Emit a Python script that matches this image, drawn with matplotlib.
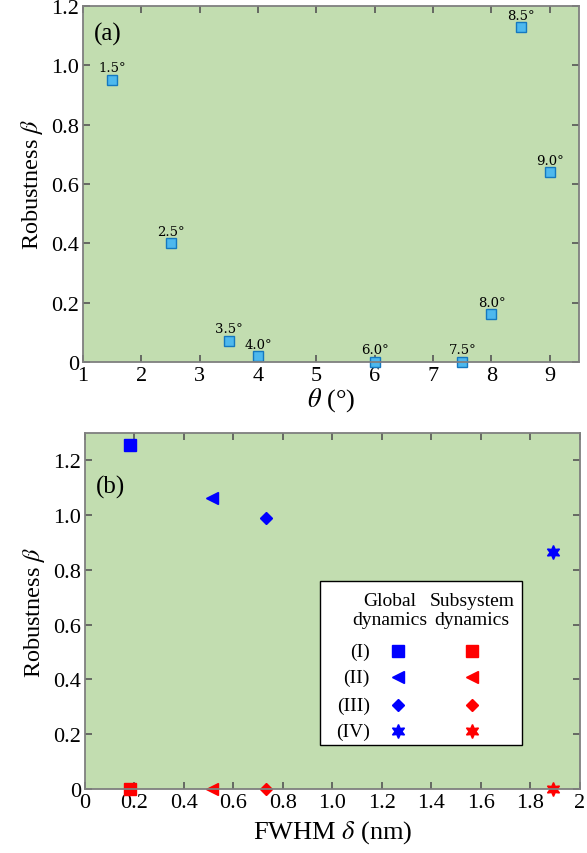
import matplotlib.pyplot as plt
from matplotlib.patches import Rectangle

plt.rcParams['font.family'] = ['Liberation Serif', 'DejaVu Serif']
plt.rcParams['mathtext.fontset'] = 'stix'

# panel (a): robustness vs twist angle
theta = [1.5, 2.5, 3.5, 4.0, 6.0, 7.5, 8.0, 8.5, 9.0]
beta_a = [0.952, 0.40, 0.072, 0.019, 0.0, 0.0, 0.161, 1.128, 0.639]
theta_labels = ['1.5°', '2.5°', '3.5°', '4.0°', '6.0°', '7.5°', '8.0°', '8.5°', '9.0°']

# panel (b): robustness vs FWHM
fwhm = [0.18, 0.515, 0.73, 1.89]
beta_global = [1.258, 1.063, 0.99, 0.866]
beta_sub = [0.0, 0.0, 0.0, 0.0]
case_labels = ['(I)', '(II)', '(III)', '(IV)']
case_markers = ['s', '<', 'D', (6, 1, 0)]
case_sizes = [8, 9, 6.5, 10]

bg = '#c2ddb0'
spine_col = '#7f7f7f'

fig = plt.figure(figsize=(5.87, 8.54), dpi=100)
ax1 = fig.add_axes([0.1414, 0.575, 0.845, 0.4168])
ax2 = fig.add_axes([0.1448, 0.0749, 0.8432, 0.4169])

for ax in (ax1, ax2):
    ax.set_facecolor(bg)
    for s in ax.spines.values():
        s.set_color(spine_col)
        s.set_linewidth(1.3)
    ax.tick_params(direction='in', top=True, right=True, length=5, width=1.2,
                   color='#555555', labelsize=16, pad=3)

# (a)
ax1.plot(theta, beta_a, 's', ms=7, mfc='#4db8ee', mec='#1478c0', mew=1.0, clip_on=False)
for x, y, t in zip(theta, beta_a, theta_labels):
    ax1.annotate(t, (x, y), xytext=(0, 4), textcoords='offset points',
                 ha='center', va='bottom', fontsize=9.5, family='DejaVu Serif')
ax1.set_xlim(1, 9.5)
ax1.set_ylim(0, 1.2)
ax1.set_xticks(range(1, 10))
ax1.set_yticks([0, 0.2, 0.4, 0.6, 0.8, 1.0, 1.2])
ax1.set_yticklabels(['0', '0.2', '0.4', '0.6', '0.8', '1.0', '1.2'])
ax1.set_xlabel(r'$\theta$ (°)', fontsize=19, labelpad=0)
ax1.set_ylabel(r'Robustness $\beta$', fontsize=17.5, labelpad=4)
ax1.text(0.022, 0.924, '(a)', transform=ax1.transAxes, fontsize=18, va='center')

# (b)
for x, yg, ys, m, ms in zip(fwhm, beta_global, beta_sub, case_markers, case_sizes):
    ax2.plot(x, yg, marker=m, ms=ms, color='blue', ls='none', clip_on=False)
    ax2.plot(x, ys, marker=m, ms=ms, color='red', ls='none', clip_on=False)
ax2.set_xlim(0, 2)
ax2.set_ylim(0, 1.3)
ax2.set_xticks([0, 0.2, 0.4, 0.6, 0.8, 1.0, 1.2, 1.4, 1.6, 1.8, 2.0])
ax2.set_xticklabels(['0', '0.2', '0.4', '0.6', '0.8', '1.0', '1.2', '1.4', '1.6', '1.8', '2'])
ax2.set_yticks([0, 0.2, 0.4, 0.6, 0.8, 1.0, 1.2])
ax2.set_yticklabels(['0', '0.2', '0.4', '0.6', '0.8', '1.0', '1.2'])
ax2.set_xlabel(r'FWHM $\delta$ (nm)', fontsize=19, labelpad=4)
ax2.set_ylabel(r'Robustness $\beta$', fontsize=17.5, labelpad=4)
ax2.text(0.022, 0.851, '(b)', transform=ax2.transAxes, fontsize=18, va='center')

# table-style legend
lx0, lx1 = (320 - 85) / 495, (522 - 85) / 495
ly0, ly1 = (790 - 746) / 356, (790 - 582) / 356
ax2.add_patch(Rectangle((lx0, ly0), lx1 - lx0, ly1 - ly0, transform=ax2.transAxes,
                        facecolor='white', edgecolor='black', lw=1.0, zorder=5))
col_lab = (370 - 85) / 495
col_g = (398 - 85) / 495
col_s = (472 - 85) / 495
head_y = (790 - 611) / 356
ax2.text((389.5 - 85) / 495, head_y, 'Global\ndynamics', transform=ax2.transAxes,
         ha='center', va='center', fontsize=14, linespacing=1.2, zorder=6)
ax2.text((472 - 85) / 495, head_y, 'Subsystem\ndynamics', transform=ax2.transAxes,
         ha='center', va='center', fontsize=14, linespacing=1.2, zorder=6)
row_y = [(790 - y) / 356 for y in (652, 678, 706, 732)]
for lab, m, ms, ry in zip(case_labels, case_markers, case_sizes, row_y):
    ax2.text(col_lab, ry, lab, transform=ax2.transAxes, ha='right', va='center',
             fontsize=14, zorder=6)
    ax2.plot(col_g, ry, marker=m, ms=ms, color='blue', transform=ax2.transAxes,
             zorder=7, clip_on=False)
    ax2.plot(col_s, ry, marker=m, ms=ms, color='red', transform=ax2.transAxes,
             zorder=7, clip_on=False)

fig.savefig('out.png', dpi=100)
